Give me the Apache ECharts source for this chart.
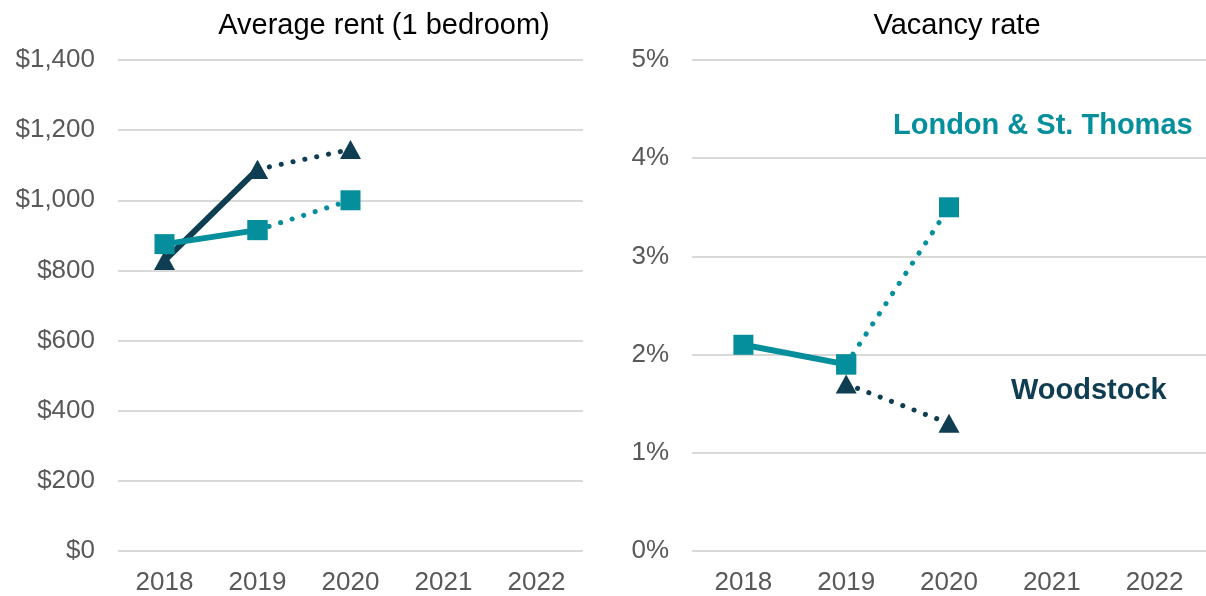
<!DOCTYPE html>
<html>
<head>
<meta charset="utf-8">
<script src="https://cdn.jsdelivr.net/npm/echarts@6/dist/echarts.min.js"></script>
<style>
  html, body { margin: 0; padding: 0; background: #fff; }
  #chart { width: 1206px; height: 596px; }
</style>
</head>
<body>
<div id="chart"></div>
<script>
const years = ['2018', '2019', '2020', '2021', '2022'];

// average rent, 1 bedroom ($)
const rentLondonSolid = [875, 915, '-', '-', '-'];
const rentLondonDotted = ['-', 915, 1000, '-', '-'];
const rentWoodSolid = [828, 1088, '-', '-', '-'];
const rentWoodDotted = ['-', 1088, 1145, '-', '-'];

// vacancy rate (%)
const vacLondonSolid = [2.1, 1.9, '-', '-', '-'];
const vacLondonDotted = ['-', 1.9, 3.5, '-', '-'];
const vacWoodDotted = ['-', 1.7, 1.3, '-', '-'];

const TEAL = '#058f9c';
const NAVY = '#0f3d51';
const FONT = '"Liberation Sans", Arial, sans-serif';

const chart = echarts.init(document.getElementById('chart'));

function xAxisCfg(idx) {
  return {
    type: 'category', gridIndex: idx, data: years,
    axisLine: { show: false }, axisTick: { show: false },
    axisLabel: { color: '#595959', fontSize: 26, fontFamily: FONT, margin: 19 }
  };
}
function yAxisCfg(idx, max, interval, fmt) {
  return {
    type: 'value', gridIndex: idx, min: 0, max: max, interval: interval,
    axisLine: { show: false }, axisTick: { show: false },
    splitLine: { lineStyle: { color: '#d9d9d9', width: 2 } },
    axisLabel: { color: '#595959', fontSize: 26, fontFamily: FONT, margin: 23, formatter: fmt }
  };
}
function solid(name, data, color, symbol, size, xi, z) {
  return {
    name: name, type: 'line', xAxisIndex: xi, yAxisIndex: xi, data: data,
    symbol: symbol, symbolSize: size, z: z,
    lineStyle: { color: color, width: 6 },
    itemStyle: { color: color }
  };
}
function dotted(name, data, color, symbol, size, xi, z) {
  return {
    name: name, type: 'line', xAxisIndex: xi, yAxisIndex: xi, data: data,
    symbol: symbol, symbolSize: size, z: z,
    lineStyle: { color: color, width: 5, type: [0.1, 12], cap: 'round' },
    itemStyle: { color: color }
  };
}

const TRI = [21, 19];
const SQ = 20;

const option = {
  animation: false,
  textStyle: { fontFamily: FONT },
  title: [
    { text: 'Average rent (1 bedroom)', left: 379, top: 6, textAlign: 'center',
      textStyle: { fontSize: 29, fontWeight: 'normal', color: '#000', fontFamily: FONT } },
    { text: 'Vacancy rate', left: 952, top: 6, textAlign: 'center',
      textStyle: { fontSize: 29, fontWeight: 'normal', color: '#000', fontFamily: FONT } }
  ],
  grid: [
    { left: 118, width: 465, top: 60, height: 493 },
    { left: 692, width: 520, top: 60, height: 493 }
  ],
  xAxis: [xAxisCfg(0), xAxisCfg(1)],
  yAxis: [
    yAxisCfg(0, 1400, 200, v => '$' + v.toLocaleString('en-US')),
    yAxisCfg(1, 5, 1, v => v + '%')
  ],
  graphic: [
    { type: 'text', left: 893, top: 111,
      style: { text: 'London & St. Thomas', fill: TEAL, font: 'bold 29px ' + FONT } },
    { type: 'text', left: 1011, top: 376,
      style: { text: 'Woodstock', fill: NAVY, font: 'bold 29px ' + FONT } }
  ],
  series: [
    solid('Woodstock', rentWoodSolid, NAVY, 'triangle', TRI, 0, 2),
    dotted('Woodstock', rentWoodDotted, NAVY, 'triangle', TRI, 0, 2),
    solid('London & St. Thomas', rentLondonSolid, TEAL, 'rect', SQ, 0, 3),
    dotted('London & St. Thomas', rentLondonDotted, TEAL, 'rect', SQ, 0, 3),
    dotted('Woodstock', vacWoodDotted, NAVY, 'triangle', TRI, 1, 2),
    solid('London & St. Thomas', vacLondonSolid, TEAL, 'rect', SQ, 1, 3),
    dotted('London & St. Thomas', vacLondonDotted, TEAL, 'rect', SQ, 1, 3)
  ]
};

chart.setOption(option);
</script>
</body>
</html>
